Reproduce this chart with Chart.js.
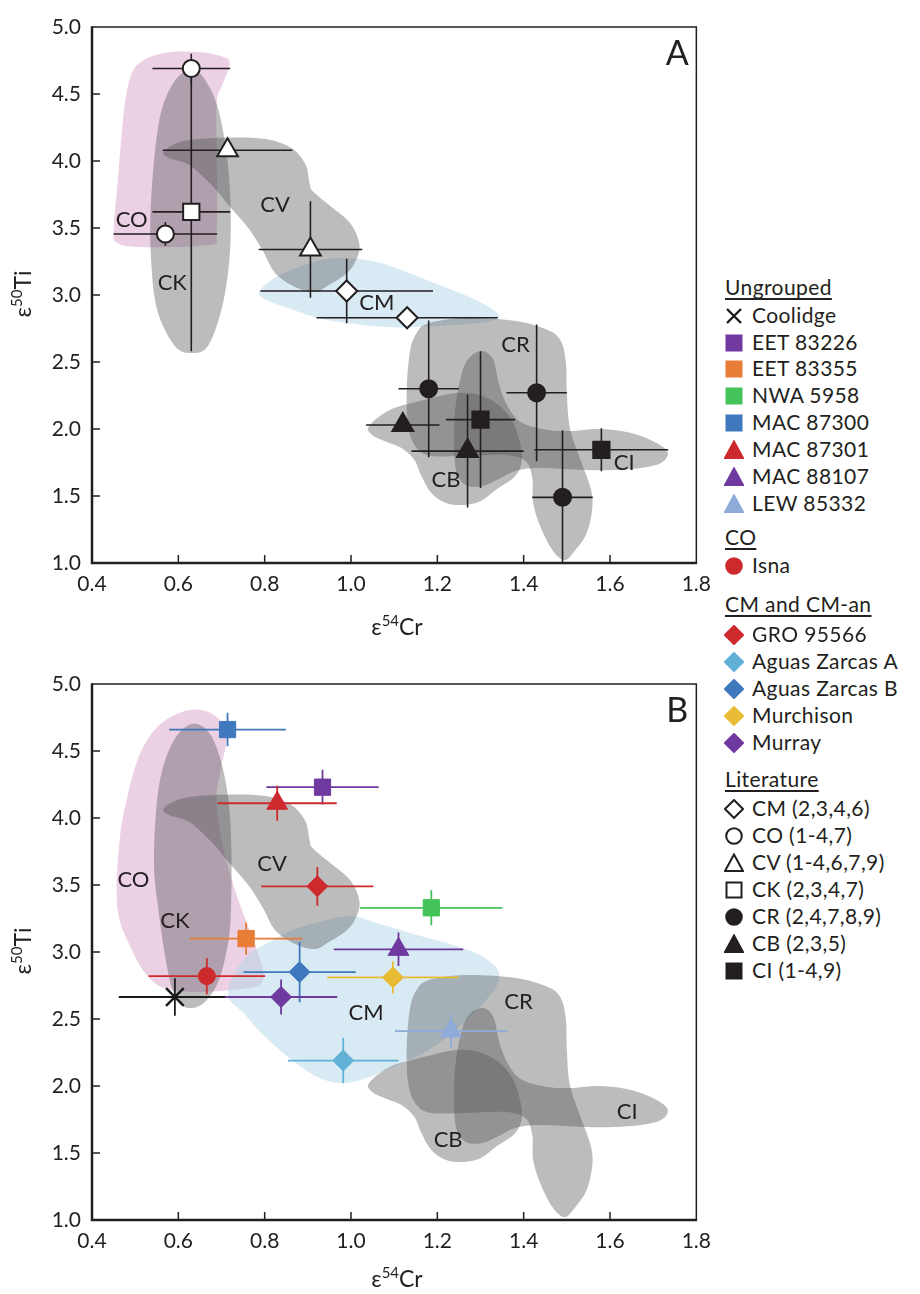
<!DOCTYPE html>
<html>
<head>
<meta charset="utf-8">
<script src="https://cdn.jsdelivr.net/npm/chart.js"></script>
<style>
  html, body { margin: 0; padding: 0; background: #fff; overflow: hidden; }
  body { font-family: Lato, "DejaVu Sans", sans-serif; color: #231f20; }
  #page { position: relative; width: 920px; height: 1294px; }
  canvas { position: absolute; left: 0; }
  .axis-title { position: absolute; width: 200px; height: 26px; line-height: 26px; font-size: 23px; text-align: center; white-space: nowrap; }
  .axis-title sup { font-size: 15px; vertical-align: 0; position: relative; top: -9px; }
  .ytitle { transform: rotate(-90deg); }
  .leg { position: absolute; left: 724px; height: 26px; line-height: 26px; font-size: 21px; white-space: nowrap; letter-spacing: 0.4px; }
  .leg.head { left: 725px; text-decoration: underline; text-underline-offset: 3px; text-decoration-thickness: 1.5px; }
  .leg svg { position: absolute; left: 0; top: 4px; }
  .leg span { position: absolute; left: 28px; }
</style>
</head>
<body>
<div id="page">
  <canvas id="chartA" width="720" height="640" style="top:0"></canvas>
  <canvas id="chartB" width="720" height="640" style="top:657px"></canvas>
  <div class="axis-title" style="left:297px; top:613px">ε<sup>54</sup>Cr</div>
  <div class="axis-title" style="left:297px; top:1265px">ε<sup>54</sup>Cr</div>
  <div class="axis-title ytitle" style="left:-78px; top:281px">ε<sup>50</sup>Ti</div>
  <div class="axis-title ytitle" style="left:-78px; top:938px">ε<sup>50</sup>Ti</div>
  <div id="legend"></div>
</div>
<script>
// axis ticks
const xTicks = [0.4, 0.6, 0.8, 1.0, 1.2, 1.4, 1.6, 1.8];
const yTicks = [1.0, 1.5, 2.0, 2.5, 3.0, 3.5, 4.0, 4.5, 5.0];

// literature data (panel A)
const litNames = ['CM (2,3,4,6)', 'CO (1-4,7)', 'CV (1-4,6,7,9)', 'CK (2,3,4,7)', 'CR (2,4,7,8,9)', 'CB (2,3,5)', 'CI (1-4,9)'];
const litKeys = ['CM', 'CO', 'CV', 'CK', 'CR', 'CB', 'CI'];
const litGroup = ['CM', 'CM', 'CO', 'CO', 'CV', 'CV', 'CK', 'CR', 'CR', 'CR', 'CB', 'CB', 'CI', 'CI'];
const litX = [0.99, 1.13, 0.63, 0.57, 0.714, 0.906, 0.63, 1.18, 1.43, 1.49, 1.12, 1.27, 1.30, 1.58];
const litY = [3.03, 2.83, 4.69, 3.455, 4.08, 3.34, 3.62, 2.30, 2.27, 1.49, 2.03, 1.835, 2.07, 1.845];
const litXErr = [0.20, 0.21, 0.09, 0.12, 0.15, 0.12, 0.09, 0.07, 0.07, 0.07, 0.085, 0.13, 0.08, 0.155];
const litYErr = [0.24, 0.04, 0.11, 0.09, 0.04, 0.36, 1.04, 0.51, 0.51, 0.50, 0.03, 0.42, 0.51, 0.16];
const litShape = ['diamond', 'circle', 'triangle', 'square', 'circle', 'triangle', 'square'];
const litOpen = [true, true, true, true, false, false, false];

// new samples (panel B)
const sampleNames = ['Coolidge', 'EET 83226', 'EET 83355', 'NWA 5958', 'MAC 87300', 'MAC 87301', 'MAC 88107', 'LEW 85332',
  'Isna', 'GRO 95566', 'Aguas Zarcas A', 'Aguas Zarcas B', 'Murchison', 'Murray'];
const sampleGroup = ['Ungrouped', 'Ungrouped', 'Ungrouped', 'Ungrouped', 'Ungrouped', 'Ungrouped', 'Ungrouped', 'Ungrouped',
  'CO', 'CM and CM-an', 'CM and CM-an', 'CM and CM-an', 'CM and CM-an', 'CM and CM-an'];
const sampleX = [0.592, 0.934, 0.757, 1.186, 0.714, 0.829, 1.110, 1.232, 0.666, 0.922, 0.982, 0.881, 1.097, 0.838];
const sampleY = [2.664, 4.23, 3.10, 3.33, 4.66, 4.11, 3.02, 2.41, 2.82, 3.49, 2.19, 2.85, 2.81, 2.664];
const sampleXErr = [0.13, 0.13, 0.13, 0.165, 0.135, 0.138, 0.15, 0.13, 0.135, 0.13, 0.128, 0.13, 0.152, 0.13];
const sampleYErr = [0.14, 0.13, 0.12, 0.13, 0.125, 0.13, 0.125, 0.125, 0.135, 0.145, 0.17, 0.225, 0.12, 0.13];
const sampleShape = ['cross', 'square', 'square', 'square', 'square', 'triangle', 'triangle', 'triangle',
  'circle', 'diamond', 'diamond', 'diamond', 'diamond', 'diamond'];
const sampleColor = ['#1a1a1a', '#7039a0', '#e87d38', '#44c35a', '#3f78bd', '#cd2a2e', '#7039a0', '#8eabd9',
  '#cd2a2e', '#cd2a2e', '#61b1d6', '#3f78bd', '#e9bc35', '#7039a0'];

// group fields (outlines in data units)
const fieldCO_A = [[0.510,4.731],[0.567,4.806],[0.647,4.813],[0.705,4.776],[0.719,4.724],[0.702,4.567],[0.689,4.440],[0.689,4.082],
  [0.689,3.470],[0.670,3.373],[0.510,3.358],[0.460,3.388],[0.450,3.470],[0.460,3.858],[0.473,4.343],[0.487,4.604]];
const fieldCK_A = [[0.629,4.679],[0.659,4.619],[0.693,4.381],[0.716,3.933],[0.721,3.410],[0.705,2.963],[0.670,2.627],[0.629,2.567],
  [0.590,2.627],[0.551,2.888],[0.537,3.261],[0.537,3.709],[0.556,4.306],[0.590,4.590]];
const fieldCM_A = [[0.790,3.037],[0.831,3.142],[0.900,3.231],[0.968,3.276],[1.060,3.246],[1.175,3.112],[1.289,2.963],[1.342,2.851],
  [1.312,2.799],[1.197,2.769],[1.083,2.761],[0.945,2.813],[0.854,2.903],[0.796,2.978]];
const fieldCO_B = [[0.457,3.463],[0.464,3.836],[0.480,4.134],[0.510,4.470],[0.556,4.694],[0.625,4.806],[0.682,4.769],[0.712,4.619],
  [0.698,4.358],[0.689,4.134],[0.705,3.761],[0.739,3.388],[0.774,3.090],[0.796,2.866],[0.792,2.769],[0.762,2.731],[0.647,2.701],
  [0.567,2.731],[0.521,2.851],[0.487,3.052],[0.464,3.239]];
const fieldCK_B = [[0.631,4.701],[0.670,4.642],[0.698,4.433],[0.716,4.134],[0.723,3.761],[0.721,3.239],[0.709,2.963],[0.689,2.754],
  [0.659,2.619],[0.631,2.582],[0.604,2.612],[0.583,2.754],[0.567,3.015],[0.554,3.313],[0.544,3.612],[0.547,3.985],[0.560,4.321],[0.590,4.582]];
const fieldCM_B = [[0.716,2.664],[0.728,2.828],[0.762,2.978],[0.819,3.090],[0.877,3.179],[0.945,3.239],[1.003,3.269],[1.060,3.216],
  [1.136,3.142],[1.220,3.067],[1.289,2.993],[1.335,2.888],[1.342,2.791],[1.319,2.664],[1.243,2.418],[1.168,2.246],[1.106,2.157],
  [1.037,2.060],[0.980,2.022],[0.922,2.067],[0.854,2.216],[0.792,2.396],[0.751,2.545]];
const fieldCV = [[0.567,4.075],[0.625,4.157],[0.778,4.172],[0.854,4.112],[0.893,3.985],[0.904,3.836],[0.911,3.776],[0.952,3.664],
  [0.998,3.537],[1.019,3.388],[1.014,3.276],[0.991,3.164],[0.945,3.067],[0.916,3.022],[0.870,3.060],[0.824,3.164],[0.796,3.328],
  [0.762,3.500],[0.716,3.672],[0.677,3.821],[0.625,3.970],[0.579,4.022]];
const fieldCR = [[1.181,2.791],[1.266,2.828],[1.381,2.806],[1.456,2.739],[1.486,2.657],[1.498,2.493],[1.500,2.269],[1.507,2.007],
  [1.530,1.784],[1.555,1.560],[1.559,1.410],[1.546,1.224],[1.518,1.090],[1.495,1.022],[1.468,1.090],[1.440,1.261],[1.422,1.448],
  [1.420,1.634],[1.404,1.761],[1.358,1.806],[1.266,1.799],[1.186,1.799],[1.152,1.858],[1.133,2.007],[1.129,2.269],[1.136,2.567],[1.152,2.716]];
const fieldCB = [[1.042,2.022],[1.090,2.142],[1.168,2.216],[1.243,2.269],[1.296,2.254],[1.342,2.179],[1.376,2.045],[1.394,1.858],
  [1.394,1.731],[1.376,1.634],[1.335,1.545],[1.301,1.463],[1.262,1.433],[1.220,1.448],[1.186,1.522],[1.163,1.649],[1.147,1.769],
  [1.117,1.858],[1.083,1.903],[1.049,1.955]];
const fieldCI = [[1.305,2.582],[1.330,2.515],[1.344,2.321],[1.365,2.157],[1.397,2.045],[1.456,1.993],[1.507,1.985],[1.580,2.000],
  [1.649,1.970],[1.708,1.896],[1.734,1.821],[1.718,1.746],[1.672,1.709],[1.610,1.694],[1.541,1.694],[1.438,1.709],[1.381,1.687],
  [1.342,1.627],[1.305,1.575],[1.266,1.582],[1.243,1.694],[1.239,1.948],[1.243,2.194],[1.259,2.440],[1.278,2.545]];

// field labels
const fieldLabels = ['CO', 'CK', 'CV', 'CM', 'CR', 'CB', 'CI'];
const labelXA = [0.492, 0.586, 0.824, 1.060, 1.381, 1.220, 1.633];
const labelYA = [3.56, 3.09, 3.67, 2.94, 2.63, 1.62, 1.75];
const labelXB = [0.496, 0.592, 0.817, 1.035, 1.388, 1.225, 1.640];
const labelYB = [3.54, 3.23, 3.66, 2.545, 2.63, 1.60, 1.81];

const PINK = '#ecd0e3', BLUE = 'rgba(177,213,231,0.5)', GREY = 'rgba(82,82,84,0.39)', INK = '#231f20';

const chartStyle = {
  circle: { pointStyle: 'circle', r: 8.5 },
  square: { pointStyle: 'rect', r: 11.5 },
  triangle: { pointStyle: 'triangle', r: 12 },
  diamond: { pointStyle: 'rectRot', r: 10.5 },
  cross: { pointStyle: 'crossRot', r: 12.5 }
};

function smoothClosed(ctx, p) {
  const n = p.length;
  ctx.moveTo(p[0][0], p[0][1]);
  for (let i = 0; i < n; i++) {
    const p0 = p[(i - 1 + n) % n], p1 = p[i], p2 = p[(i + 1) % n], p3 = p[(i + 2) % n];
    ctx.bezierCurveTo(p1[0] + (p2[0] - p0[0]) / 6, p1[1] + (p2[1] - p0[1]) / 6,
      p2[0] - (p3[0] - p1[0]) / 6, p2[1] - (p3[1] - p1[1]) / 6, p2[0], p2[1]);
  }
  ctx.closePath();
}

const panelPlugin = {
  id: 'panel',
  beforeDatasetsDraw(chart, args, opts) {
    const { ctx, chartArea: a, scales: { x, y } } = chart;
    ctx.save();
    ctx.beginPath();
    ctx.rect(a.left, a.top, a.width, a.height);
    ctx.clip();
    opts.fields.forEach(f => {
      ctx.beginPath();
      smoothClosed(ctx, f.pts.map(([vx, vy]) => [x.getPixelForValue(vx), y.getPixelForValue(vy)]));
      ctx.fillStyle = f.color;
      ctx.fill();
    });
    ctx.font = '22px Lato';
    ctx.fillStyle = INK;
    ctx.textAlign = 'center';
    ctx.textBaseline = 'middle';
    fieldLabels.forEach((t, i) => ctx.fillText(t, x.getPixelForValue(opts.labelX[i]), y.getPixelForValue(opts.labelY[i])));
    // error bars
    chart.data.datasets.forEach(ds => {
      ctx.strokeStyle = ds.errColor;
      ctx.lineWidth = ds.errWidth;
      ds.data.forEach((d, i) => {
        const px = x.getPixelForValue(d.x), py = y.getPixelForValue(d.y);
        ctx.beginPath();
        ctx.moveTo(x.getPixelForValue(d.x - ds.xErr[i]), py);
        ctx.lineTo(x.getPixelForValue(d.x + ds.xErr[i]), py);
        ctx.moveTo(px, y.getPixelForValue(d.y - ds.yErr[i]));
        ctx.lineTo(px, y.getPixelForValue(d.y + ds.yErr[i]));
        ctx.stroke();
      });
    });
    ctx.restore();
  },
  afterDraw(chart, args, opts) {
    const { ctx, chartArea: a, scales: { x, y } } = chart;
    ctx.save();
    ctx.strokeStyle = INK;
    ctx.lineWidth = 1.5;
    ctx.beginPath();
    ctx.moveTo(a.left, a.top); ctx.lineTo(a.right, a.top); ctx.lineTo(a.right, a.bottom);
    ctx.stroke();
    ctx.lineWidth = 2.5;
    ctx.beginPath();
    ctx.moveTo(a.left, a.top - 0.75); ctx.lineTo(a.left, a.bottom); ctx.lineTo(a.right + 0.75, a.bottom);
    ctx.stroke();
    ctx.lineWidth = 1.5;
    ctx.beginPath();
    xTicks.slice(1, -1).forEach(v => { const px = x.getPixelForValue(v); ctx.moveTo(px, a.bottom); ctx.lineTo(px, a.bottom - 8); });
    yTicks.slice(1, -1).forEach(v => { const py = y.getPixelForValue(v); ctx.moveTo(a.left, py); ctx.lineTo(a.left + 8, py); });
    ctx.stroke();
    ctx.font = '34px Lato';
    ctx.fillStyle = INK;
    ctx.textAlign = 'center';
    ctx.textBaseline = 'alphabetic';
    ctx.fillText(opts.letter, a.right - 19, a.top + 38);
    ctx.restore();
  }
};

function pointDataset(label, xs, ys, xe, ye, shape, fill, stroke, errColor, errWidth, borderWidth) {
  const st = chartStyle[shape];
  return {
    label,
    data: xs.map((v, i) => ({ x: v, y: ys[i] })),
    xErr: xe, yErr: ye,
    errColor, errWidth,
    pointStyle: st.pointStyle,
    pointRadius: st.r,
    pointBackgroundColor: fill,
    pointBorderColor: stroke,
    pointBorderWidth: borderWidth
  };
}

function makeChart(id, datasets, fields, labelX, labelY, letter) {
  return new Chart(document.getElementById(id), {
    type: 'scatter',
    data: { datasets },
    options: {
      responsive: false,
      animation: false,
      events: [],
      layout: { padding: { top: 27, right: 17, left: 0, bottom: 0 } },
      scales: {
        x: {
          type: 'linear', min: 0.4, max: 1.8,
          afterBuildTicks: s => { s.ticks = xTicks.map(v => ({ value: v })); },
          afterFit: s => { s.height = 77; },
          grid: { display: false, drawTicks: false },
          border: { display: false },
          ticks: { padding: 9, color: INK, font: { family: 'Lato', size: 21 }, callback: v => v.toFixed(1), maxRotation: 0 }
        },
        y: {
          type: 'linear', min: 1, max: 5,
          afterBuildTicks: s => { s.ticks = yTicks.map(v => ({ value: v })); },
          afterFit: s => { s.width = 92; },
          grid: { display: false, drawTicks: false },
          border: { display: false },
          ticks: { padding: 11, color: INK, font: { family: 'Lato', size: 21 }, callback: v => v.toFixed(1) }
        }
      },
      plugins: {
        legend: { display: false },
        tooltip: { enabled: false },
        panel: { fields, labelX, labelY, letter }
      }
    },
    plugins: [panelPlugin]
  });
}

// panel A: literature
const datasetsA = litKeys.map((k, g) => {
  const idx = litGroup.map((v, i) => v === k ? i : -1).filter(i => i >= 0);
  return pointDataset(litNames[g], idx.map(i => litX[i]), idx.map(i => litY[i]), idx.map(i => litXErr[i]), idx.map(i => litYErr[i]),
    litShape[g], litOpen[g] ? '#ffffff' : INK, INK, INK, 1.6, 2);
});
makeChart('chartA', datasetsA, [
  { pts: fieldCO_A, color: PINK }, { pts: fieldCM_A, color: BLUE }, { pts: fieldCK_A, color: GREY },
  { pts: fieldCV, color: GREY }, { pts: fieldCR, color: GREY }, { pts: fieldCB, color: GREY }, { pts: fieldCI, color: GREY }
], labelXA, labelYA, 'A');

// panel B: new samples
const datasetsB = sampleNames.map((n, i) => pointDataset(n, [sampleX[i]], [sampleY[i]], [sampleXErr[i]], [sampleYErr[i]],
  sampleShape[i], sampleColor[i], sampleColor[i], sampleColor[i], 1.8, sampleShape[i] === 'cross' ? 2.5 : 1));
makeChart('chartB', datasetsB, [
  { pts: fieldCO_B, color: PINK }, { pts: fieldCM_B, color: BLUE }, { pts: fieldCK_B, color: GREY },
  { pts: fieldCV, color: GREY }, { pts: fieldCR, color: GREY }, { pts: fieldCB, color: GREY }, { pts: fieldCI, color: GREY }
], labelXB, labelYB, 'B');

// legend
function icon(shape, fill, stroke) {
  const sw = 'stroke="' + stroke + '" stroke-width="2"';
  let s;
  if (shape === 'square') s = '<rect x="2.5" y="2.5" width="15" height="15" fill="' + fill + '" ' + sw + '/>';
  else if (shape === 'circle') s = '<circle cx="10" cy="10" r="7.8" fill="' + fill + '" ' + sw + '/>';
  else if (shape === 'triangle') s = '<polygon points="10,1.5 19,18 1,18" fill="' + fill + '" ' + sw + ' stroke-linejoin="miter"/>';
  else if (shape === 'diamond') s = '<polygon points="10,1 19,10 10,19 1,10" fill="' + fill + '" ' + sw + '/>';
  else s = '<path d="M3,3 L17,17 M17,3 L3,17" fill="none" stroke="' + stroke + '" stroke-width="2.4"/>';
  return '<svg width="20" height="20" viewBox="0 0 20 20">' + s + '</svg>';
}
const legendHeads = ['Ungrouped', 'CO', 'CM and CM-an', 'Literature'];
const headCenters = [288, 538, 605, 780];
const itemCenters = [[316, 342.5, 369, 396, 423, 450, 477, 504], [566], [635, 662, 689, 716, 743], [809, 836, 863, 890, 917, 944, 971]];
let html = '';
legendHeads.forEach((h, g) => {
  html += '<div class="leg head" style="top:' + (headCenters[g] - 13.6) + 'px">' + h + '</div>';
  let rows;
  if (g < 3) {
    rows = sampleNames.map((n, i) => i).filter(i => sampleGroup[i] === h)
      .map(i => [sampleNames[i], icon(sampleShape[i], sampleColor[i], sampleShape[i] === 'cross' ? '#1a1a1a' : sampleColor[i])]);
  } else {
    rows = litNames.map((n, i) => [n, icon(litShape[i], litOpen[i] ? '#fff' : INK, INK)]);
  }
  rows.forEach((r, k) => {
    html += '<div class="leg" style="top:' + (itemCenters[g][k] - 13.6) + 'px">' + r[1] + '<span>' + r[0] + '</span></div>';
  });
});
document.getElementById('legend').innerHTML = html;
</script>
</body>
</html>
